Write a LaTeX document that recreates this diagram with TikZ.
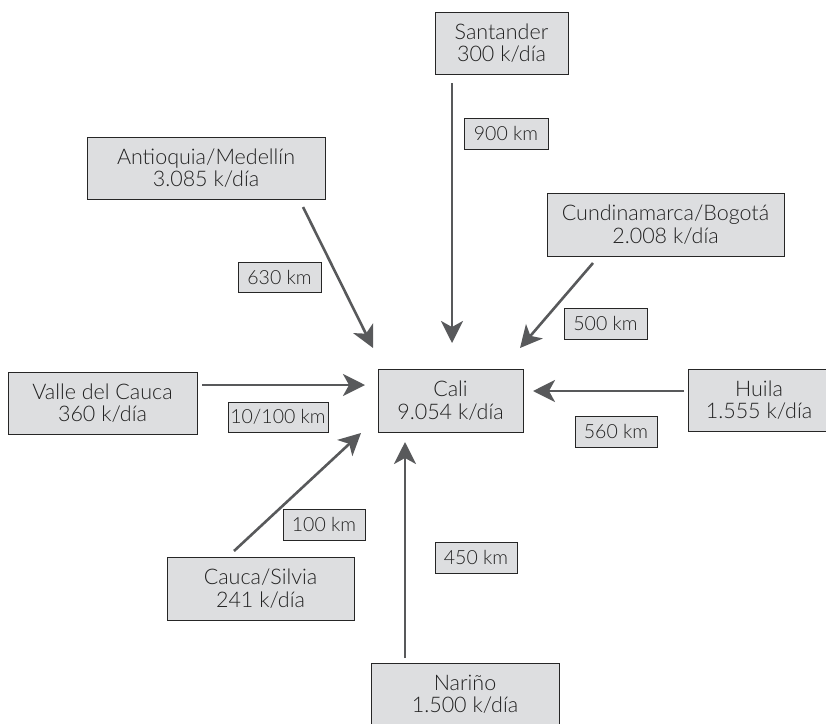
\documentclass[tikz,border=0pt]{standalone}
\usepackage{fontspec}
\setmainfont{Lato Light}
\usetikzlibrary{arrows.meta}
\definecolor{boxgray}{HTML}{DDDEE0}
\definecolor{linegray}{HTML}{58595B}
\definecolor{textgray}{HTML}{222222}
\tikzset{
  place/.style={draw=black!85, fill=boxgray, line width=0.9pt, align=center,
    inner sep=0pt, text=textgray, font=\fontsize{21.5}{22.5}\selectfont},
  dist/.style={draw=black!85, fill=boxgray, line width=0.8pt, align=center,
    inner sep=0pt, text=textgray, font=\fontsize{19.5}{21}\selectfont},
  flow/.style={draw=linegray, line width=2.6pt,
    -{Stealth[length=22pt, width=22pt, inset=6pt]}}
}
\begin{document}
\begin{tikzpicture}[x=1pt,y=-1pt]
\useasboundingbox (0,0) rectangle (826,723);
\clip (0,0) rectangle (826,723);
% places
\node[place, minimum width=133pt, minimum height=62pt] (sant) at (501.5,43) {Santander\\300 k/día};
\node[place, minimum width=238pt, minimum height=62pt] (ant) at (206,168) {Antioquia/Medellín\\3.085 k/día};
\node[place, minimum width=237pt, minimum height=63pt] (cund) at (665.5,224.5) {Cundinamarca/Bogotá\\2.008 k/día};
\node[place, minimum width=189pt, minimum height=62pt] (valle) at (102.5,403) {Valle del Cauca\\360 k/día};
\node[place, minimum width=145pt, minimum height=63pt] (cali) at (450.5,400.5) {Cali\\9.054 k/día};
\node[place, minimum width=142pt, minimum height=62pt] (huila) at (759,400) {Huila\\1.555 k/día};
\node[place, minimum width=187pt, minimum height=63pt] (cauca) at (260.5,588.5) {Cauca/Silvia\\241 k/día};
\node[place, minimum width=188pt, minimum height=63pt] (nar) at (465,694.5) {Nariño\\1.500 k/día};
% distance labels
\node[dist, minimum width=84pt, minimum height=31pt] (d900) at (506,133.5) {900 km};
\node[dist, minimum width=83pt, minimum height=30pt] (d630) at (279.5,277) {630 km};
\node[dist, minimum width=83pt, minimum height=31pt] (d500) at (605.5,323.5) {500 km};
\node[dist, minimum width=100pt, minimum height=30pt] (d10) at (278,417) {10/100 km};
\node[dist, minimum width=82pt, minimum height=31pt] (d560) at (616,431.5) {560 km};
\node[dist, minimum width=82pt, minimum height=31pt] (d100) at (324,524.5) {100 km};
\node[dist, minimum width=82pt, minimum height=31pt] (d450) at (476,557.5) {450 km};
% connector ends
\coordinate (sA) at (452,83);  \coordinate (sB) at (452,343);
\coordinate (aA) at (303,207); \coordinate (aB) at (373,348);
\coordinate (cA) at (593,263); \coordinate (cB) at (520,348);
\coordinate (vA) at (202,385); \coordinate (vB) at (365,385);
\coordinate (hA) at (684,391); \coordinate (hB) at (533,391);
\coordinate (kA) at (234,551); \coordinate (kB) at (361,433);
\coordinate (nA) at (405,658); \coordinate (nB) at (405,442);
\draw[flow] (sA) -- (sB);
\draw[flow] (aA) -- (aB);
\draw[flow] (cA) -- (cB);
\draw[flow] (vA) -- (vB);
\draw[flow] (hA) -- (hB);
\draw[flow] (kA) -- (kB);
\draw[flow] (nA) -- (nB);
\end{tikzpicture}
\end{document}
